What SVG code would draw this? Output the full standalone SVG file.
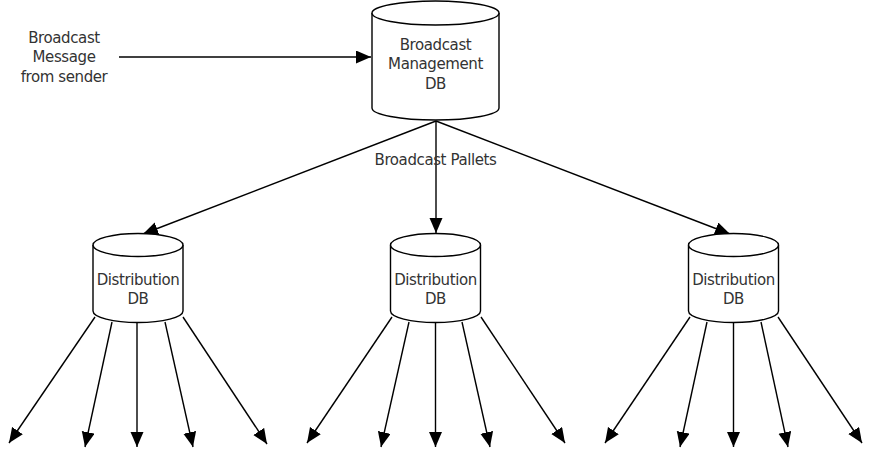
<svg xmlns="http://www.w3.org/2000/svg" width="870" height="456" viewBox="0 0 870 456">
<style>
.cyl{fill:#fff;stroke:#000;stroke-width:1.4}
.lbl{font-family:"DejaVu Sans",sans-serif;font-size:15px;letter-spacing:-0.4px;fill:#333;text-anchor:middle}
.con{stroke:#000;stroke-width:1.4;fill:none;marker-end:url(#ah)}
</style>
<defs>
<marker id="ah" markerUnits="userSpaceOnUse" markerWidth="17" markerHeight="14" refX="15" refY="6.5" orient="auto">
<path d="M0,0 L15,6.5 L0,13 Z" fill="#000"/>
</marker>
</defs>
<rect width="870" height="456" fill="#fff"/>
<g id="connectors">
<line class="con" x1="119" y1="57" x2="371" y2="57"/>
<line class="con" x1="436" y1="121" x2="143" y2="234"/>
<line class="con" x1="436" y1="121" x2="436" y2="233"/>
<line class="con" x1="436" y1="121" x2="730" y2="234"/>
<line class="con" x1="95" y1="317" x2="9" y2="443"/>
<line class="con" x1="112" y1="322" x2="85" y2="447"/>
<line class="con" x1="137" y1="323" x2="137" y2="447"/>
<line class="con" x1="165" y1="322" x2="193" y2="447"/>
<line class="con" x1="183" y1="317" x2="267" y2="444"/>
<line class="con" x1="392" y1="317" x2="307" y2="443"/>
<line class="con" x1="409" y1="322" x2="381" y2="447"/>
<line class="con" x1="435.5" y1="323" x2="435.5" y2="447"/>
<line class="con" x1="462" y1="322" x2="490" y2="447"/>
<line class="con" x1="481" y1="317" x2="565" y2="443"/>
<line class="con" x1="690" y1="317" x2="605" y2="443"/>
<line class="con" x1="707" y1="322" x2="680" y2="447"/>
<line class="con" x1="733.5" y1="323" x2="733.5" y2="447"/>
<line class="con" x1="761" y1="322" x2="788" y2="447"/>
<line class="con" x1="778" y1="317" x2="862" y2="443"/>
</g>
<g id="sender">
<text class="lbl" x="64" y="43">Broadcast</text>
<text class="lbl" x="64" y="62">Message</text>
<text class="lbl" x="64" y="82">from sender</text>
</g>
<g id="pallets-label">
<text class="lbl" x="435.5" y="165">Broadcast Pallets</text>
</g>
<g id="mgmt-db">
<path class="cyl" d="M372,13 L372,108 A63.5,12 0 0 0 499,108 L499,13 A63.5,12 0 0 0 372,13 Z"/>
<path class="cyl" d="M372,13 A63.5,12 0 0 0 499,13"/>
<text class="lbl" x="435.5" y="50">Broadcast</text>
<text class="lbl" x="435.5" y="69">Management</text>
<text class="lbl" x="435.5" y="89">DB</text>
</g>
<g id="dist-db-1">
<path class="cyl" d="M93,245 L93,311 A45,11.5 0 0 0 183,311 L183,245 A45,11.5 0 0 0 93,245 Z"/>
<path class="cyl" d="M93,245 A45,11.5 0 0 0 183,245"/>
<text class="lbl" x="138" y="285">Distribution</text>
<text class="lbl" x="138" y="304">DB</text>
</g>
<g id="dist-db-2">
<path class="cyl" d="M390.5,245 L390.5,311 A45,11.5 0 0 0 480.5,311 L480.5,245 A45,11.5 0 0 0 390.5,245 Z"/>
<path class="cyl" d="M390.5,245 A45,11.5 0 0 0 480.5,245"/>
<text class="lbl" x="435.5" y="285">Distribution</text>
<text class="lbl" x="435.5" y="304">DB</text>
</g>
<g id="dist-db-3">
<path class="cyl" d="M688.5,245 L688.5,311 A45,11.5 0 0 0 778.5,311 L778.5,245 A45,11.5 0 0 0 688.5,245 Z"/>
<path class="cyl" d="M688.5,245 A45,11.5 0 0 0 778.5,245"/>
<text class="lbl" x="733.5" y="285">Distribution</text>
<text class="lbl" x="733.5" y="304">DB</text>
</g>
</svg>
